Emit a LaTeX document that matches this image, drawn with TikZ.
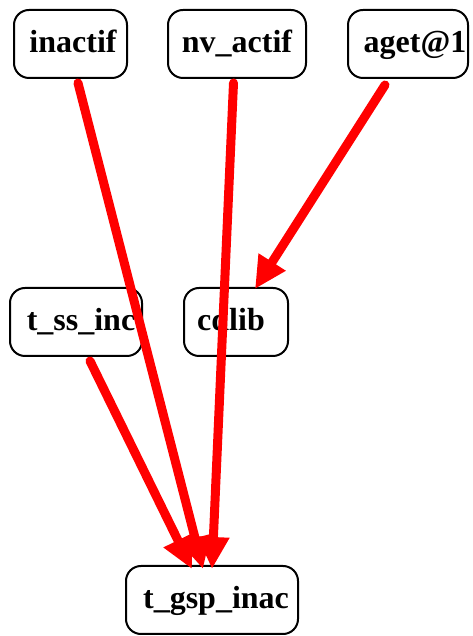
\documentclass[tikz,border=0pt]{standalone}
\usepackage{fontspec}
\setmainfont{Liberation Serif}
\usetikzlibrary{arrows.meta,calc}
\begin{document}
\begin{tikzpicture}[x=1pt,y=1pt,
  box/.style={draw=black,line width=2pt,rounded corners=15pt,inner sep=0pt,minimum height=68pt},
  lbl/.style={font=\fontsize{32}{32}\selectfont\bfseries,inner sep=0pt,anchor=base},
  edge/.style={draw=red,line width=9pt,line cap=round,
    -{Triangle[length=32pt,width=30pt]}}]
\useasboundingbox (0,0) rectangle (472,636);
\begin{scope}
\clip (0,0) rectangle (472,636);
\node[box,minimum width=113pt] (inactif) at (70.5,592) {};
\node[box,minimum width=138pt] (nvactif) at (237,592) {};
\node[box,minimum width=120pt] (aget) at (408,592) {};
\node[box,minimum width=132pt] (tssinc) at (76,314) {};
\node[box,minimum width=104pt] (cdlib) at (236,314) {};
\node[box,minimum width=172pt] (tgsp) at (212,36) {};
\node[lbl] (inactifT) at (73,583) {inactif};
\node[lbl] (nvactifT) at (237,583) {nv\_actif};
\node[lbl] (agetT) at (415,583) {aget@1};
\node[lbl] (tssincT) at (81,305) {t\_ss\_inc};
\node[lbl] (cdlibT) at (231,305) {cdlib};
\node[lbl] (tgspT) at (216,27) {t\_gsp\_inac};
\end{scope}
\draw[edge] ($(inactif.south)+(7.5,-4)$) -- ($(tgsp.north)+(-9,-4)$);
\draw[edge] ($(nvactif.south)+(-3.5,-4)$) -- ($(tgsp.north)+(0,-4)$);
\draw[edge] ($(tssinc.south)+(14,-4)$) -- ($(tgsp.north)+(-20,-4)$);
\draw[edge] ($(aget.south)+(-23,-6)$) -- ($(cdlib.north)+(19,-2)$);
\end{tikzpicture}
\end{document}
